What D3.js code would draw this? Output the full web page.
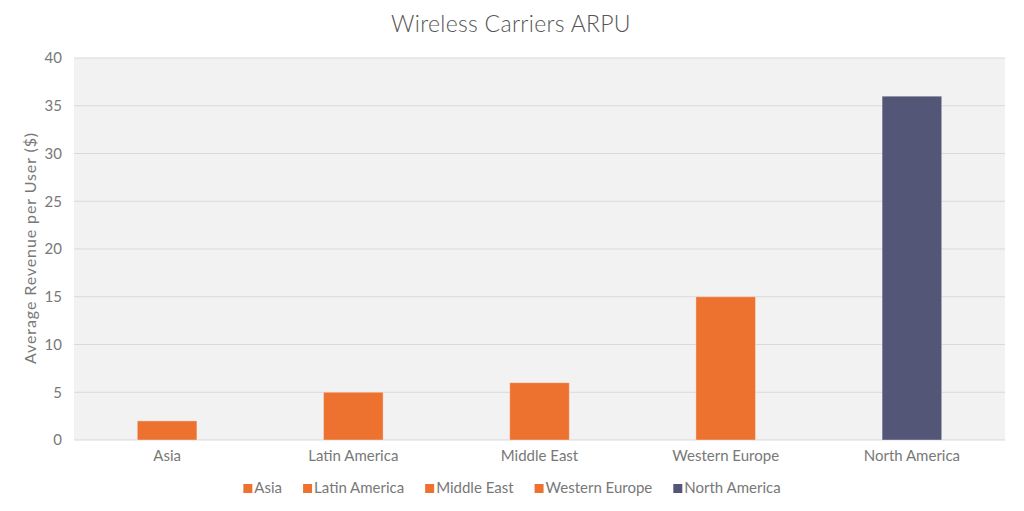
<!DOCTYPE html>
<html>
<head>
<meta charset="utf-8">
<script src="https://cdn.jsdelivr.net/npm/d3@7"></script>
<style>
  body { margin: 0; background: #fff; }
  text { font-family: "Lato", "Open Sans", sans-serif; }
</style>
</head>
<body>
<svg id="chart"></svg>
<script>
// Data
const regions = ["Asia", "Latin America", "Middle East", "Western Europe", "North America"];
const arpu    = [2, 5, 6, 15, 36];
const colors  = ["#ED7230", "#ED7230", "#ED7230", "#ED7230", "#535677"];
const yTicks  = [0, 5, 10, 15, 20, 25, 30, 35, 40];

// Configuration
const W = 1024, H = 511;
const margin = { top: 58, right: 19, bottom: 71, left: 74 };
const width  = W - margin.left - margin.right;
const height = H - margin.top  - margin.bottom;
const textColor = "#787878";

const root = d3.select("#chart").attr("width", W).attr("height", H);

root.append("text")
    .attr("x", W / 2 - 1)
    .attr("y", 32)
    .attr("text-anchor", "middle")
    .attr("font-size", "23px")
    .attr("font-weight", 300)
    .attr("letter-spacing", "0.3px")
    .attr("fill", "#555")
    .text("Wireless Carriers ARPU");

const svg = root.append("g")
    .attr("transform", `translate(${margin.left},${margin.top})`);

// Scales
const x = d3.scaleBand().domain(regions).range([0, width]);
const y = d3.scaleLinear().domain([0, 40]).range([height, 0]);
const barW = x.bandwidth() * 0.32;

// Plot background
svg.append("rect")
    .attr("width", width)
    .attr("height", height)
    .attr("fill", "#f2f2f2");

// Gridlines
svg.selectAll(".grid")
    .data(yTicks)
    .enter().append("line")
    .attr("x1", 0).attr("x2", width)
    .attr("y1", d => y(d)).attr("y2", d => y(d))
    .attr("stroke", "#d9d9d9")
    .attr("stroke-width", 1);

// Y axis
const yAxisG = svg.append("g")
    .call(d3.axisLeft(y).tickValues(yTicks).tickSize(0).tickPadding(12));
yAxisG.select(".domain").remove();

// X axis
const xAxisG = svg.append("g")
    .attr("transform", `translate(0,${height})`)
    .call(d3.axisBottom(x).tickSize(0).tickPadding(10));
xAxisG.select(".domain").remove();

root.selectAll(".tick text")
    .attr("font-family", "Lato, sans-serif")
    .attr("font-size", "15px")
    .attr("fill", textColor);

// Y label
svg.append("text")
    .attr("transform", "rotate(-90)")
    .attr("x", -height / 2 + 1)
    .attr("y", -38)
    .attr("text-anchor", "middle")
    .attr("font-size", "16px")
    .attr("letter-spacing", "0.9px")
    .attr("fill", textColor)
    .text("Average Revenue per User ($)");

// Bars
svg.selectAll(".bar")
    .data(regions)
    .enter().append("rect")
    .attr("class", "bar")
    .attr("x", d => x(d) + (x.bandwidth() - barW) / 2)
    .attr("width", barW)
    .attr("y", (d, i) => y(arpu[i]))
    .attr("height", (d, i) => height - y(arpu[i]))
    .attr("fill", (d, i) => colors[i])
    .attr("stroke", "#fff")
    .attr("stroke-opacity", 0.35)
    .attr("stroke-width", 1);

// Legend
const legend = root.append("g");
let lx = 0;
regions.forEach((r, i) => {
    const item = legend.append("g").attr("transform", `translate(${lx},0)`);
    item.append("rect")
        .attr("x", 0).attr("y", -9)
        .attr("width", 9).attr("height", 9)
        .attr("fill", colors[i]);
    const t = item.append("text")
        .attr("x", 11)
        .attr("y", 0)
        .attr("font-size", "15px")
        .attr("fill", textColor)
        .text(r);
    lx += 11 + t.node().getComputedTextLength() + 21;
});
lx -= 21;
legend.attr("transform", `translate(${(W - lx) / 2},${493})`);
</script>
</body>
</html>
